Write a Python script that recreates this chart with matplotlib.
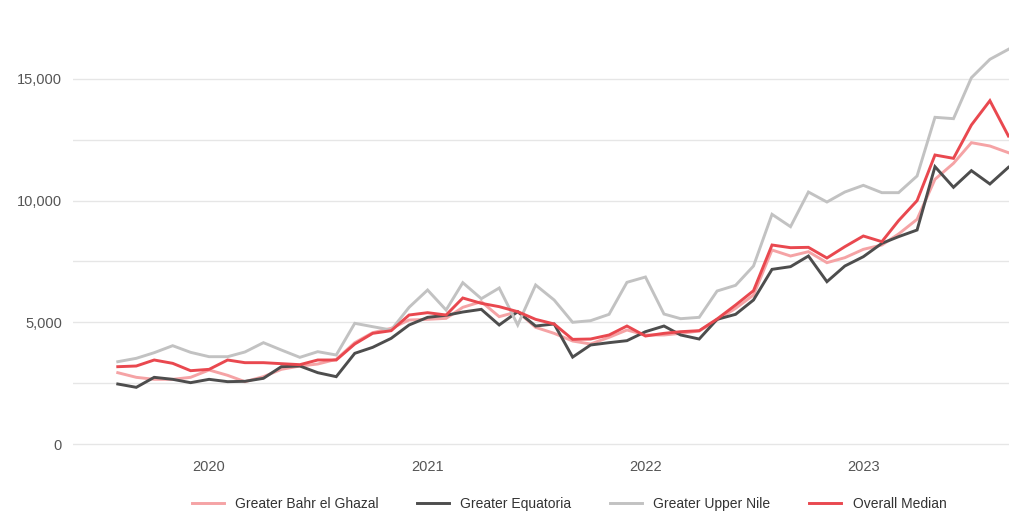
#
# Monthly price lines by region, South Sudan
#

import numpy as np
import pandas as pd
import matplotlib
matplotlib.use('Agg')
import matplotlib.pyplot as plt
import matplotlib.dates as mdates
from matplotlib.ticker import FixedLocator, FuncFormatter

months = pd.date_range('2019-08-01', '2023-09-01', freq='MS')

bahr_el_ghazal = [2930, 2739, 2657, 2657, 2739, 3040, 2821, 2561, 2766, 3067,
                  3204, 3286, 3478, 4163, 4573, 4751, 5094, 5121, 5162, 5615,
                  5847, 5231, 5436, 4792, 4546, 4230, 4108, 4382, 4683, 4478,
                  4478, 4546, 4642, 5094, 5573, 6121, 7970, 7723, 7901, 7449,
                  7654, 7997, 8175, 8627, 9230, 10874, 11531, 12379, 12242, 11968]
equatoria = [2465, 2328, 2739, 2657, 2520, 2657, 2561, 2575, 2698, 3176,
             3204, 2930, 2766, 3725, 3971, 4341, 4889, 5204, 5286, 5422,
             5532, 4889, 5436, 4847, 4930, 3570, 4067, 4163, 4245, 4614,
             4847, 4478, 4313, 5121, 5327, 5916, 7175, 7285, 7723, 6668,
             7312, 7695, 8243, 8517, 8791, 11393, 10546, 11229, 10681, 11366]
upper_nile = [3381, 3520, 3751, 4039, 3766, 3587, 3587, 3780, 4163, 3862,
              3560, 3793, 3656, 4958, 4820, 4683, 5615, 6326, 5505, 6627,
              5970, 6409, 4889, 6532, 5916, 5000, 5066, 5327, 6642, 6860,
              5340, 5148, 5204, 6285, 6519, 7312, 9436, 8928, 10352, 9941,
              10352, 10627, 10325, 10325, 11010, 13421, 13365, 15048, 15803, 16214]
overall_median = [3176, 3204, 3451, 3314, 3012, 3067, 3451, 3341, 3341, 3300,
                  3259, 3451, 3451, 4108, 4546, 4655, 5299, 5395, 5299, 5998,
                  5779, 5642, 5436, 5121, 4930, 4299, 4313, 4478, 4847, 4436,
                  4546, 4614, 4655, 5135, 5710, 6299, 8175, 8065, 8079, 7641,
                  8106, 8545, 8312, 9175, 9997, 11872, 11735, 13105, 14104, 12653]

series = [
    ('Greater Bahr el Ghazal', bahr_el_ghazal, '#f5a3a5'),
    ('Greater Equatoria', equatoria, '#4d4d4d'),
    ('Greater Upper Nile', upper_nile, '#c2c2c2'),
    ('Overall Median', overall_median, '#e9484f'),
]

plt.rcParams['font.family'] = ['Liberation Sans', 'DejaVu Sans']

fig = plt.figure(figsize=(10.09, 5.11), dpi=100)
ax = fig.add_axes([73 / 1009, 65 / 511, 936 / 1009, 446 / 511])

for name, values, color in series:
    ax.plot(months, values, color=color, linewidth=2.1, label=name,
            solid_joinstyle='miter')

ax.set_xlim(pd.Timestamp('2019-05-18'), pd.Timestamp('2023-09-02'))
ax.set_ylim(-82, 18240)

# gridlines every 2,500, labels every 5,000
ax.yaxis.set_major_locator(FixedLocator([0, 5000, 10000, 15000]))
ax.yaxis.set_minor_locator(FixedLocator([2500, 7500, 12500]))
ax.yaxis.set_major_formatter(FuncFormatter(lambda v, p: f'{int(v):,}'))
ax.grid(axis='y', which='both', color='#e6e6e6', linewidth=1)
ax.set_axisbelow(True)

ax.xaxis.set_major_locator(mdates.YearLocator())
ax.xaxis.set_major_formatter(mdates.DateFormatter('%Y'))

for side in ['top', 'right', 'left', 'bottom']:
    ax.spines[side].set_visible(False)
ax.tick_params(axis='both', which='both', length=0, labelsize=10.5,
               labelcolor='#555555')
ax.tick_params(axis='y', pad=8)
ax.tick_params(axis='x', pad=10)

fig.legend(loc='center', bbox_to_anchor=(569 / 1009, 7 / 511), ncol=4,
           frameon=False, fontsize=10, handlelength=2.3, handletextpad=0.8,
           columnspacing=2.8, labelcolor='#333333')

fig.savefig('out.png', dpi=100)
